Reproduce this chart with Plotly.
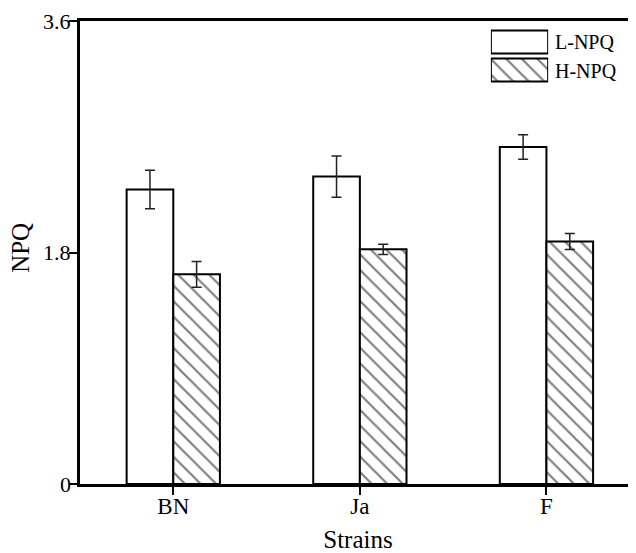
import plotly.graph_objects as go

strains = ["BN", "Ja", "F"]
l_npq = [2.29, 2.39, 2.62]
l_err = [0.15, 0.16, 0.095]
h_npq = [1.63, 1.825, 1.885]
h_err = [0.10, 0.04, 0.062]
series_names = ["L-NPQ", "H-NPQ"]
y_ticks = [0, 1.8, 3.6]
y_tick_labels = ["0", "1.8", "3.6"]

FONT = "Liberation Serif"
BLACK = "#000000"

fig = go.Figure()
fig.add_trace(go.Bar(
    x=strains, y=l_npq, name=series_names[0],
    marker=dict(color="white", line=dict(color=BLACK, width=2)),
    error_y=dict(type="data", array=l_err, color="#222222", thickness=1.5, width=5),
    showlegend=False,
))
fig.add_trace(go.Bar(
    x=strains, y=h_npq, name=series_names[1],
    marker=dict(color="white", line=dict(color=BLACK, width=2),
                pattern=dict(shape="\\", fgcolor=BLACK, bgcolor="white", size=11, solidity=0.2)),
    error_y=dict(type="data", array=h_err, color="#222222", thickness=1.5, width=5),
    showlegend=False,
))

# legend swatches drawn as bars on an overlay axis
fig.add_trace(go.Bar(
    x=[1, 1], y=[1, 0], orientation="h", width=0.82,
    marker=dict(color="white", line=dict(color=BLACK, width=2),
                pattern=dict(shape=["", "\\"], fgcolor=BLACK, bgcolor="white", size=11, solidity=0.2)),
    xaxis="x2", yaxis="y2", showlegend=False, hoverinfo="skip",
))

fig.update_layout(
    width=628, height=545,
    margin=dict(l=72, r=0, t=13, b=69),
    paper_bgcolor="white", plot_bgcolor="white",
    barmode="group", bargap=0.5, bargroupgap=0,
    font=dict(family=FONT, color=BLACK, size=18),
    xaxis=dict(
        range=[-0.5, 2.48], showline=True, linecolor=BLACK, linewidth=2.5, mirror=True,
        ticks="outside", ticklen=8, tickwidth=2, tickcolor=BLACK, showgrid=False,
        tickfont=dict(size=23), automargin=False, ticklabelstandoff=-8,
        title=dict(text="Strains", font=dict(size=25), standoff=14),
    ),
    yaxis=dict(
        range=[0, 3.6], tickvals=y_ticks, showticklabels=False,
        showline=True, linecolor=BLACK, linewidth=2.5, mirror=False,
        ticks="outside", ticklen=8, tickwidth=2, tickcolor=BLACK, showgrid=False, zeroline=False,
        automargin=False,
    ),
    xaxis2=dict(domain=[0.739, 0.842], range=[0, 1], visible=False, anchor="y2"),
    yaxis2=dict(domain=[0.864, 0.985], range=[-0.5, 1.5], visible=False, anchor="x2"),
)

# y tick labels placed beside the tick marks
for v, lab in zip(y_ticks, y_tick_labels):
    fig.add_annotation(
        xref="paper", yref="y", x=0, y=v, text=lab, showarrow=False,
        xanchor="right", yanchor="middle", xshift=-7,
        font=dict(size=22, family=FONT, color=BLACK),
    )

# y axis title
fig.add_annotation(
    xref="paper", yref="paper", x=0, y=0.51, text="NPQ", showarrow=False,
    textangle=-90, xanchor="center", yanchor="middle", xshift=-59,
    font=dict(size=25, family=FONT, color=BLACK),
)

for i, name in enumerate(series_names):
    fig.add_annotation(
        xref="paper", yref="paper", x=0.850, y=0.954 - i * 0.063,
        text=name, showarrow=False, xanchor="left", yanchor="middle",
        font=dict(size=20, family=FONT, color=BLACK),
    )

fig.write_html("out.html")
